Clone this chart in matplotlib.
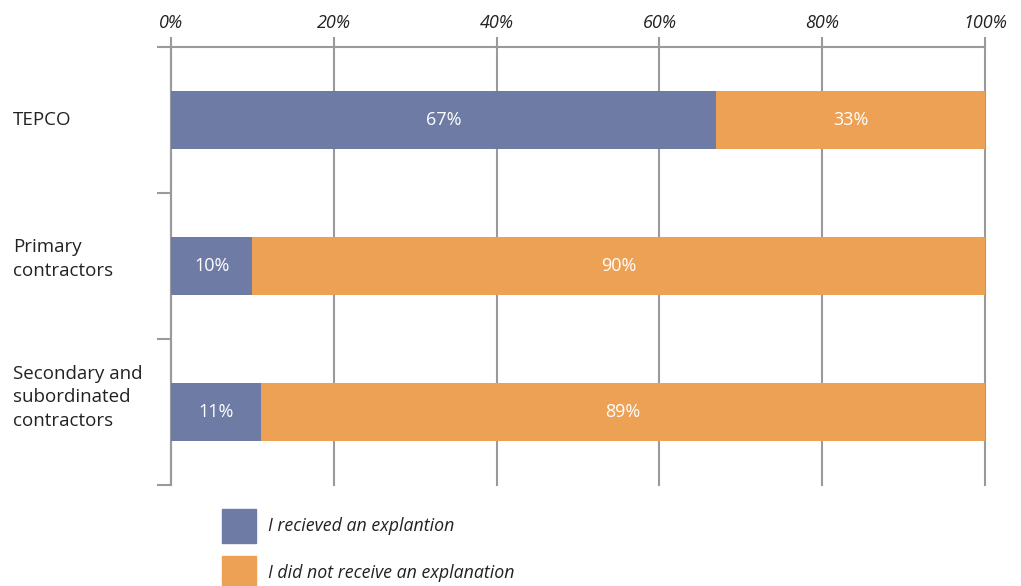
import matplotlib
matplotlib.use('Agg')
import matplotlib.pyplot as plt
from matplotlib.patches import Rectangle
from matplotlib.transforms import blended_transform_factory

# Data
categories = ['TEPCO', 'Primary\ncontractors', 'Secondary and\nsubordinated\ncontractors']
received = [67, 10, 11]
not_received = [33, 90, 89]
series_labels = ['I recieved an explantion', 'I did not receive an explanation']
colors = ['#6e7ca5', '#eca155']
grid_color = '#9a9a9e'

plt.rcParams['font.family'] = ['Open Sans', 'DejaVu Sans']

fig = plt.figure(figsize=(10.21, 5.86), dpi=100)
ax = fig.add_axes([171 / 1021, 1 - 485 / 586, (985 - 171) / 1021, (485 - 47) / 586])

ypos = list(range(len(categories)))
ax.barh(ypos, received, height=0.4, color=colors[0], zorder=3)
ax.barh(ypos, not_received, left=received, height=0.4, color=colors[1], zorder=3)

# value labels inside the bars
for y, a, b in zip(ypos, received, not_received):
    ax.text(a / 2, y, f'{a}%', ha='center', va='center', color='white', fontsize=13, zorder=4)
    ax.text(a + b / 2, y, f'{b}%', ha='center', va='center', color='white', fontsize=13, zorder=4)

ax.set_xlim(0, 100)
ax.set_ylim(2.5, -0.5)

# vertical grid + top percent labels
ax.set_xticks(range(0, 101, 20))
ax.set_xticklabels([f'{v}%' for v in range(0, 101, 20)], fontsize=13, style='italic', color='#222222')
ax.xaxis.tick_top()
ax.tick_params(axis='x', length=7, width=1.5, color=grid_color, pad=4)
ax.grid(axis='x', color=grid_color, linewidth=1.5, zorder=0)
for line in ax.get_xgridlines():
    line.set_clip_on(False)

ax.set_yticks([-0.5, 0.5, 1.5, 2.5])
ax.set_yticklabels([])
ax.tick_params(axis='y', length=10, width=1.5, color=grid_color)

for side in ['right', 'bottom']:
    ax.spines[side].set_visible(False)
for side in ['top', 'left']:
    ax.spines[side].set_color(grid_color)
    ax.spines[side].set_linewidth(1.5)

# category labels, left aligned at the figure edge (multi-line ones sit a bit higher)
trans = blended_transform_factory(fig.transFigure, ax.transData)
for y, name in zip(ypos, categories):
    shift = -0.05 * name.count('\n')
    ax.text(13 / 1021, y + shift, name, transform=trans, ha='left', va='center',
            fontsize=13.5, color='#222222', linespacing=1.4)

# legend drawn by hand below the chart
for i, (lab, col) in enumerate(zip(series_labels, colors)):
    top = 509 + i * 47
    fig.add_artist(Rectangle((222 / 1021, 1 - (top + 34) / 586), 34 / 1021, 34 / 586,
                             transform=fig.transFigure, color=col))
    fig.text(268 / 1021, 1 - (top + 17) / 586, lab, ha='left', va='center',
             fontsize=12.8, style='italic', color='#222222')

fig.savefig('out.png', dpi=100)
